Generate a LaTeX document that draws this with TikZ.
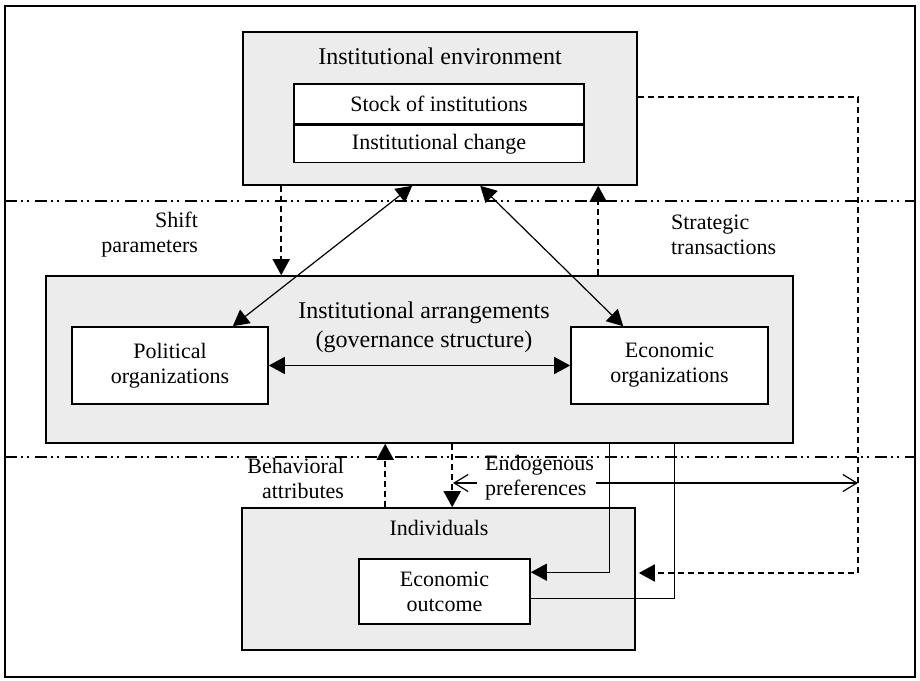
\documentclass[tikz,border=0pt]{standalone}
\usepackage{fontspec}
\setmainfont{Liberation Serif}
\usetikzlibrary{arrows.meta,calc,positioning}
\definecolor{boxgray}{RGB}{236,236,236}
\tikzset{
	outerbox/.style={draw,line width=0.8pt,fill=boxgray,anchor=center,inner sep=0pt},
	innerbox/.style={draw,line width=0.8pt,fill=white,anchor=center,align=center,inner sep=0pt,font=\fontsize{11}{12.5}\selectfont},
	boundary/.style={line width=0.65pt,dash pattern=on 6pt off 2pt on 1pt off 2pt on 1pt off 3pt},
	link/.style={line width=0.6pt,-{Triangle[length=8pt,width=8.5pt]}},
	dlink/.style={line width=0.6pt,{Triangle[length=8pt,width=8.5pt]}-{Triangle[length=8pt,width=8.5pt]}},
	dashlink/.style={link,line width=0.9pt,dash pattern=on 3pt off 2pt},
	barblink/.style={line width=0.6pt,-{Straight Barb[length=7pt,width=8.5pt]}},
	lbl/.style={font=\fontsize{11}{12.5}\selectfont},
}
\begin{document}
\begin{tikzpicture}[x=0.5pt,y=-0.5pt]
	\useasboundingbox (0,0) rectangle (920,680);
	\draw[line width=1.1pt] (5,6) rectangle (915,677);
	
	% levels
	\draw[boundary] (5,201) -- (915,201);
	\draw[boundary] (5,457) -- (915,457);
	
	% boxes
	\node (env) at (440,108.5) [outerbox,minimum width=197pt,minimum height=76.5pt] {};
	\node (envtitle) at (440,56) [font=\fontsize{12}{14}\selectfont] {Institutional environment};
	\node (stock) at (439,104) [innerbox,minimum width=145pt,minimum height=20pt] {Stock of institutions};
	\node (change) [innerbox,below=0pt of stock,minimum width=145pt,minimum height=18.5pt] {Institutional change};
	
	\node (arr) at (419.5,359.5) [outerbox,minimum width=373.5pt,minimum height=83.5pt] {};
	\node (arrtitle) at (424,327) [align=center,font=\fontsize{12}{14.5}\selectfont] {Institutional arrangements\\(governance structure)};
	\node (pol) at (170,365.5) [innerbox,minimum width=98pt,minimum height=38.5pt] {Political\\organizations};
	\node (eco) at (669.5,365.5) [innerbox,minimum width=98.5pt,minimum height=38.5pt] {Economic\\organizations};
	
	\node (ind) at (438.5,579) [outerbox,minimum width=196.5pt,minimum height=71pt] {};
	\node (indtitle) at (439,528) [lbl] {Individuals};
	\node (out) at (444.5,591.5) [innerbox,minimum width=85.5pt,minimum height=32.5pt] {Economic\\outcome};
	
	% labels
	\node (shift) at (205,235) [lbl,anchor=east,align=right] {Shift\\parameters};
	\node (strat) at (664,235) [lbl,anchor=west,align=left] {Strategic\\transactions};
	\node (behav) at (351,478) [lbl,anchor=east,align=right] {Behavioral\\attributes};
	\node (endo) at (478,478) [lbl,anchor=west,align=left] {Endogenous\\preferences};
	
	\coordinate (fbcorner) at (858,573);
	\coordinate (endoL) at (453,483);
	\coordinate (endoR) at (858,483);
	
	% connectors
	\draw[dashlink] ($(env.south west)+(39,0)$) -- ($(arr.north west)+(236,0)$);
	\draw[dashlink] ($(arr.north west)+(553,0)$) -- ($(env.south west)+(356,0)$);
	\draw[dlink] ($(env.south west)+(170,0)$) -- ($(pol.north east)+(-36,0)$);
	\draw[dlink] ($(env.south west)+(238,0)$) -- ($(eco.north west)+(53,0)$);
	\draw[dlink] (pol) -- (eco);
	
	\draw[dashlink] ($(ind.north west)+(144,0)$) -- ($(arr.south west)+(340,0)$);
	\draw[dashlink] ($(arr.south west)+(407,0)$) -- ($(ind.north west)+(211,0)$);
	\draw[link] ($(arr.south west)+(564,0)$) |- ($(out.north east)+(0,14)$);
	\draw[line width=0.6pt] ($(out.north east)+(0,40)$) -| ($(arr.south west)+(629,0)$);
	\draw[dashlink] ($(env.north east)+(0,66)$) -| (fbcorner) -- ($(ind.east)+(3,-6)$);
	
	\draw[barblink] ($(endoL)+(24,0)$) -- (endoL);
	\draw[barblink] ($(endoL)+(143,0)$) -- (endoR);
\end{tikzpicture}
\end{document}
